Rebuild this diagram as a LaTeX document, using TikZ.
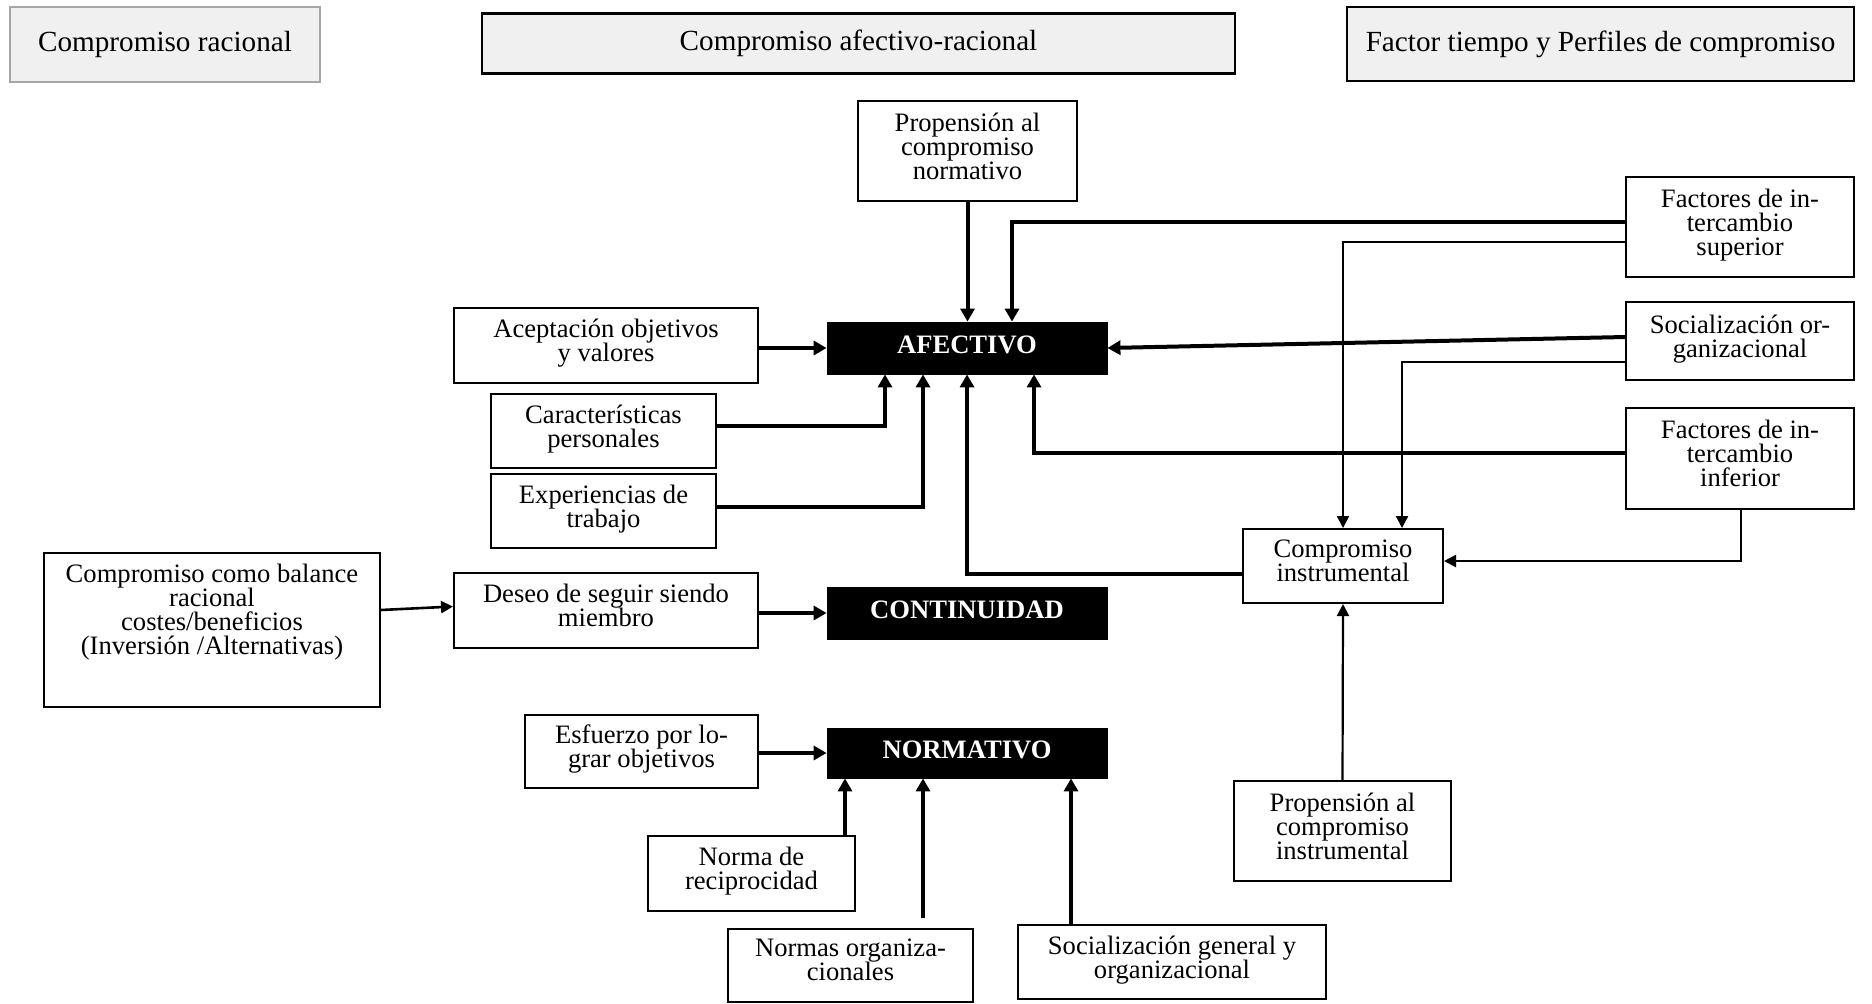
\documentclass[tikz,border=0pt]{standalone}
\usepackage{fontspec}
\setmainfont{Liberation Serif}
\usetikzlibrary{arrows.meta,calc}
\lineskiplimit=-100pt
\begin{document}
\begin{tikzpicture}[x=0.5pt,y=-0.5pt,
  sz/.style 2 args={minimum width=#1*0.5pt, minimum height=#2*0.5pt},
  box/.style={draw, line width=1pt, rectangle, inner sep=0pt, align=center,
              text depth=5pt, font=\fontsize{13.3}{12}\selectfont},
  core/.style={draw=black, fill=black, text=white, inner sep=0pt,
               text height=9pt, text depth=3.5pt,
               font=\fontsize{13.3}{12}\selectfont\bfseries},
  hdr/.style={draw, fill=gray!12, inner sep=0pt, font=\fontsize{14.6}{14}\selectfont},
  thk/.style={line width=2pt, -{Triangle[length=6.5pt,width=7pt]}},
  mid/.style={line width=1.3pt, -{Triangle[length=6pt,width=6pt]}},
  thn/.style={line width=1.1pt, -{Triangle[length=6pt,width=6pt]}},
]
\useasboundingbox (0,0) rectangle (1872,1003);

% column headers
\node[hdr, sz={310}{75}, draw=gray!70, line width=0.8pt] (h1) at (165,44.5) {Compromiso racional};
\node[hdr, sz={753}{59}, line width=0.8pt] (h2) at (858.5,43.5) {Compromiso afectivo-racional};
\draw[line width=1.5pt] (h2.north west) -- (h2.north east) (h2.south west) -- (h2.south east);
\node[hdr, sz={507}{74}, line width=1.3pt] (h3) at (1600.5,44) {Factor tiempo y Perfiles de compromiso};

% the three components
\node[core, sz={280}{52}] (afe) at (967,348) {AFECTIVO};
\node[core, sz={280}{52}] (con) at (967,613) {CONTINUIDAD};
\node[core, sz={280}{50}] (nor) at (967,753) {NORMATIVO};

% antecedents
\node[box, sz={219}{100}] (propN) at (967.5,151) {Propensión al\\compromiso\\normativo};
\node[box, sz={304}{75}] (acep) at (606,345.5) {Aceptación objetivos\\y valores};
\node[box, sz={225}{74}] (car) at (603.5,431) {Características\\personales};
\node[box, sz={225}{74}] (exp) at (603.5,511) {Experiencias de\\trabajo};
\node[box, sz={336}{154}, line width=0.8pt] (bal) at (212,630) {};
\node[anchor=north, align=center, inner sep=0pt, font=\fontsize{13.3}{12}\selectfont]
  (balt) at ($(bal.north)+(0,11)$) {Compromiso como balance\\racional\\costes/beneficios\\(Inversión /Alternativas)};
\node[box, sz={304}{75}] (des) at (606,610.5) {Deseo de seguir siendo\\miembro};
\node[box, sz={233}{73}] (esf) at (641.5,751.5) {Esfuerzo por lo-\\grar objetivos};
\node[box, sz={207}{75}] (rec) at (751.5,873.5) {Norma de\\reciprocidad};
\node[box, sz={245}{73}] (nog) at (850.5,965) {Normas organiza-\\cionales};
\node[box, sz={308}{74}] (sgo) at (1172,962) {Socialización general y\\organizacional};
\node[box, sz={228}{100}] (fsup) at (1740,227) {Factores de in-\\tercambio\\superior};
\node[box, sz={228}{78}] (sorg) at (1740,341) {Socialización or-\\ganizacional};
\node[box, sz={228}{101}] (finf) at (1740,458.5) {Factores de in-\\tercambio\\inferior};
\node[box, sz={200}{74}] (cin) at (1343,566) {Compromiso\\instrumental};
\node[box, sz={217}{100}] (propI) at (1342.5,831) {Propensión al\\compromiso\\instrumental};

% entry points on the component boxes
\coordinate (a1) at ($(afe.north)+(45,0)$);
\coordinate (a2) at ($(afe.south)+(67,0)$);
\coordinate (a3) at ($(afe.south)+(-82,0)$);
\coordinate (a4) at ($(afe.south)+(-44,0)$);
\coordinate (c1) at ($(cin.north)+(59,0)$);
\coordinate (n1) at ($(nor.south)+(-122,0)$);
\coordinate (n2) at ($(nor.south)+(-44,0)$);
\coordinate (n3) at ($(nor.south)+(104,0)$);

% connectors into AFECTIVO
\draw[thk] (propN.south) -- (propN.south |- afe.north);
\draw[thk] ($(fsup.west)+(0,-5)$) -| (a1);
\draw[thk] ($(sorg.west)+(0,-4)$) -- (afe.east);
\draw[thk] ($(finf.west)+(0,-6)$) -| (a2);
\draw[thk] ($(cin.west)+(0,8)$) -| (afe.south);
\draw[thk] (acep.east |- afe.west) -- (afe.west);
\draw[thk] ($(car.east)+(0,-5)$) -| (a3);
\draw[thk] ($(exp.east)+(0,-4)$) -| (a4);

% connectors into Compromiso instrumental
\draw[thn] ($(fsup.west)+(0,15)$) -| (cin.north);
\draw[thn] ($(sorg.west)+(0,21)$) -| (c1);
\draw[thn] ($(finf.south)+(1,0)$) |- ($(cin.east)+(0,-5)$);
\draw[thn] (propI.north) -- (cin.south);

% CONTINUIDAD
\draw[mid] ($(bal.east)+(0,-20)$) -- ($(des.west)+(0,-4)$);
\draw[thk] (des.east |- con.west) -- (con.west);

% NORMATIVO
\draw[thk] (esf.east |- nor.west) -- (nor.west);
\draw[thk] (rec.north -| n1) -- (n1);
\draw[thk] ($(nog.north -| n2)+(0,-10)$) -- (n2);
\draw[thk] (sgo.north -| n3) -- (n3);
\end{tikzpicture}
\end{document}
